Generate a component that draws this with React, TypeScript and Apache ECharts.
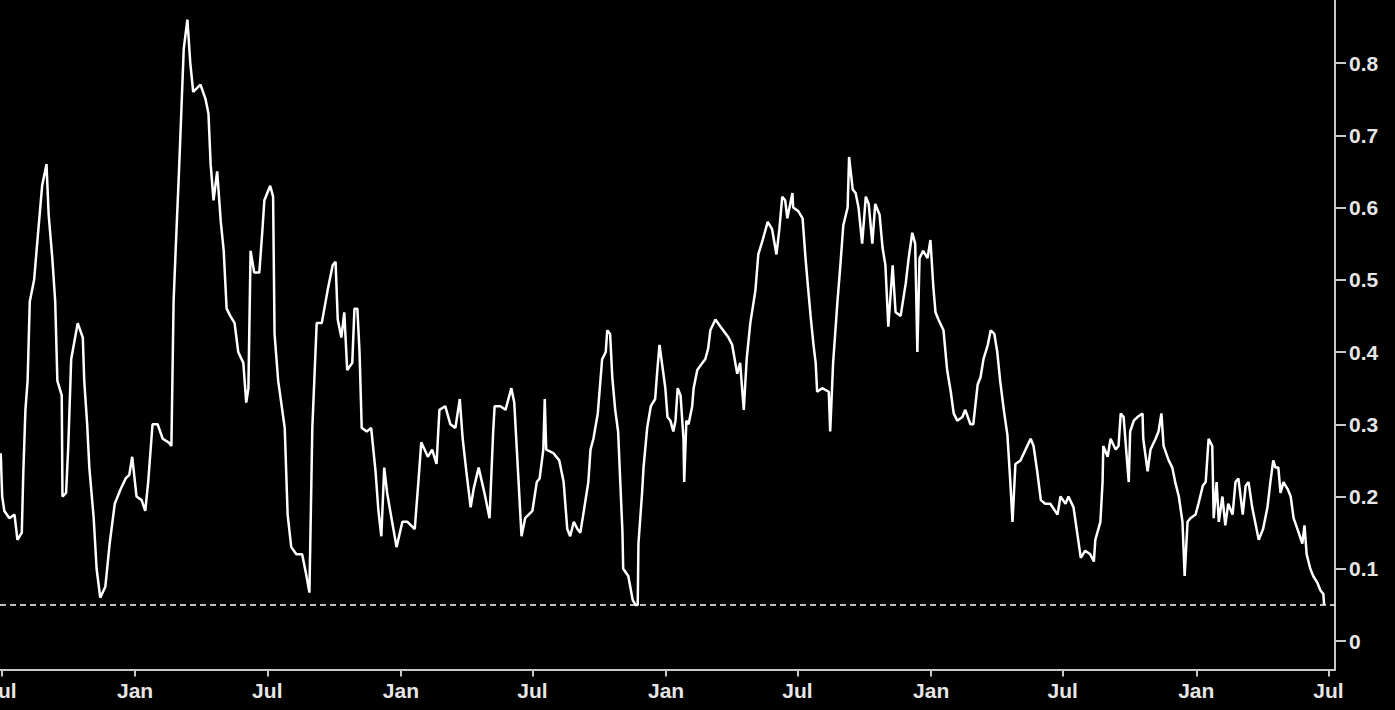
import React, { useEffect, useRef } from "react";
import * as echarts from "echarts";

// Day offsets since 2019-07-01 and the series values
const days: number[] = [
  -1, 1, 4, 11, 18, 22, 28, 30, 33, 36, 39, 45, 50, 56, 62, 65, 70, 74, 77, 83, 84, 89, 92, 96, 105, 112, 114, 118, 121, 127, 131, 136, 143, 149, 156, 164, 171, 176, 180, 186, 193, 198, 202, 208, 215, 222, 230, 234, 237, 240, 244, 246, 251, 256, 260, 264, 274, 281, 285, 288, 292, 297, 302, 306, 310, 315, 321, 326, 333, 337, 340, 343, 348, 355, 359, 362, 370, 374, 376, 381, 390, 394, 399, 406, 414, 419, 424, 428, 434, 441, 449, 456, 460, 463, 468, 472, 476, 483, 486, 490, 493, 496, 503, 509, 515, 519, 523, 527, 531, 537, 544, 552, 559, 569, 574, 578, 587, 593, 599, 603, 611, 618, 625, 631, 635, 640, 646, 650, 657, 665, 672, 677, 679, 687, 694, 702, 706, 712, 716, 721, 731, 737, 741, 746, 748, 750, 760, 768, 774, 779, 783, 788, 793, 797, 801, 808, 811, 815, 821, 825, 827, 832, 834, 838, 841, 845, 849, 852, 855, 856, 863, 869, 873, 876, 877, 882, 884, 889, 894, 900, 903, 906, 910, 914, 917, 921, 925, 928, 931, 935, 939, 940, 943, 946, 951, 953, 958, 965, 969, 973, 976, 983, 990, 1001, 1006, 1013, 1017, 1022, 1026, 1031, 1038, 1042, 1048, 1055, 1061, 1067, 1071, 1075, 1079, 1082, 1089, 1090, 1097, 1103, 1107, 1110, 1114, 1118, 1121, 1123, 1130, 1139, 1141, 1145, 1151, 1155, 1159, 1165, 1167, 1172, 1176, 1180, 1185, 1190, 1194, 1199, 1203, 1209, 1213, 1217, 1221, 1227, 1231, 1238, 1245, 1249, 1254, 1258, 1261, 1264, 1269, 1275, 1279, 1283, 1286, 1290, 1297, 1302, 1307, 1311, 1316, 1323, 1327, 1334, 1338, 1344, 1348, 1352, 1358, 1362, 1367, 1371, 1375, 1380, 1385, 1389, 1392, 1396, 1403, 1410, 1417, 1421, 1426, 1431, 1437, 1444, 1454, 1458, 1465, 1469, 1476, 1481, 1486, 1492, 1499, 1504, 1506, 1513, 1516, 1517, 1523, 1527, 1534, 1538, 1541, 1545, 1550, 1552, 1554, 1559, 1564, 1571, 1572, 1578, 1582, 1589, 1593, 1597, 1600, 1607, 1612, 1616, 1621, 1626, 1629, 1633, 1637, 1644, 1648, 1654, 1658, 1662, 1667, 1669, 1673, 1676, 1681, 1685, 1689, 1695, 1699, 1703, 1709, 1713, 1717, 1722, 1726, 1731, 1737, 1743, 1747, 1751, 1754, 1758, 1761, 1765, 1771, 1775, 1779, 1786, 1791, 1794, 1797, 1802, 1806, 1812, 1816, 1820, 1821,
];

const values: number[] = [
  0.26, 0.2, 0.18, 0.17, 0.175, 0.14, 0.15, 0.23, 0.32, 0.36, 0.47, 0.5, 0.56, 0.63, 0.66, 0.59, 0.53, 0.47, 0.36, 0.34, 0.2, 0.205, 0.27, 0.39, 0.44, 0.42, 0.36, 0.3, 0.24, 0.17, 0.1, 0.06, 0.075, 0.135, 0.19, 0.21, 0.225, 0.23, 0.255, 0.2, 0.195, 0.18, 0.22, 0.3, 0.3, 0.28, 0.275, 0.27, 0.47, 0.545, 0.64, 0.69, 0.82, 0.86, 0.8, 0.76, 0.77, 0.75, 0.73, 0.66, 0.61, 0.65, 0.58, 0.54, 0.46, 0.45, 0.44, 0.4, 0.385, 0.33, 0.35, 0.54, 0.51, 0.51, 0.565, 0.61, 0.63, 0.615, 0.425, 0.36, 0.295, 0.175, 0.13, 0.12, 0.12, 0.095, 0.067, 0.295, 0.44, 0.44, 0.485, 0.52, 0.525, 0.445, 0.42, 0.455, 0.375, 0.385, 0.46, 0.46, 0.4, 0.295, 0.29, 0.295, 0.235, 0.18, 0.145, 0.24, 0.205, 0.17, 0.13, 0.165, 0.165, 0.155, 0.22, 0.275, 0.255, 0.265, 0.245, 0.32, 0.325, 0.3, 0.295, 0.335, 0.28, 0.235, 0.185, 0.21, 0.24, 0.205, 0.17, 0.29, 0.325, 0.325, 0.32, 0.35, 0.33, 0.22, 0.145, 0.17, 0.18, 0.22, 0.225, 0.265, 0.335, 0.265, 0.26, 0.25, 0.22, 0.155, 0.145, 0.165, 0.155, 0.15, 0.175, 0.22, 0.265, 0.28, 0.315, 0.365, 0.39, 0.4, 0.43, 0.425, 0.365, 0.32, 0.29, 0.22, 0.15, 0.1, 0.09, 0.057, 0.05, 0.05, 0.135, 0.205, 0.24, 0.295, 0.325, 0.335, 0.375, 0.41, 0.38, 0.35, 0.31, 0.305, 0.29, 0.305, 0.35, 0.34, 0.28, 0.22, 0.305, 0.3, 0.325, 0.35, 0.375, 0.385, 0.39, 0.405, 0.43, 0.445, 0.435, 0.42, 0.41, 0.37, 0.385, 0.32, 0.39, 0.44, 0.485, 0.535, 0.555, 0.58, 0.57, 0.535, 0.57, 0.615, 0.61, 0.585, 0.62, 0.6, 0.595, 0.585, 0.53, 0.495, 0.45, 0.41, 0.385, 0.345, 0.35, 0.345, 0.29, 0.385, 0.47, 0.52, 0.575, 0.6, 0.67, 0.625, 0.62, 0.6, 0.55, 0.615, 0.605, 0.55, 0.605, 0.59, 0.545, 0.52, 0.435, 0.52, 0.455, 0.45, 0.495, 0.53, 0.565, 0.55, 0.4, 0.53, 0.54, 0.53, 0.555, 0.49, 0.455, 0.445, 0.43, 0.375, 0.345, 0.315, 0.305, 0.31, 0.32, 0.3, 0.3, 0.355, 0.365, 0.39, 0.41, 0.43, 0.425, 0.4, 0.36, 0.32, 0.285, 0.22, 0.165, 0.245, 0.25, 0.265, 0.28, 0.27, 0.235, 0.195, 0.19, 0.19, 0.175, 0.2, 0.19, 0.2, 0.185, 0.15, 0.115, 0.125, 0.12, 0.11, 0.14, 0.165, 0.22, 0.27, 0.255, 0.28, 0.265, 0.27, 0.315, 0.31, 0.245, 0.22, 0.29, 0.305, 0.31, 0.315, 0.28, 0.235, 0.265, 0.28, 0.29, 0.315, 0.27, 0.25, 0.24, 0.22, 0.2, 0.165, 0.09, 0.165, 0.17, 0.175, 0.19, 0.215, 0.22, 0.28, 0.27, 0.17, 0.22, 0.165, 0.2, 0.16, 0.19, 0.175, 0.22, 0.225, 0.175, 0.215, 0.22, 0.185, 0.165, 0.14, 0.155, 0.185, 0.22, 0.25, 0.24, 0.24, 0.205, 0.22, 0.21, 0.2, 0.17, 0.15, 0.135, 0.16, 0.12, 0.1, 0.09, 0.08, 0.07, 0.065, 0.05,
];

const baseDate = "2019-07-01";
const axisStart = "2019-06-29";
const axisEnd = "2024-07-10";
const tickDates: string[] = [
  "2019-07-01", "2020-01-01", "2020-07-01", "2021-01-01", "2021-07-01", "2022-01-01",
  "2022-07-01", "2023-01-01", "2023-07-01", "2024-01-01", "2024-07-01",
];
const tickLabels: string[] = ["Jul", "Jan", "Jul", "Jan", "Jul", "Jan", "Jul", "Jan", "Jul", "Jan", "Jul"];
const yTicks: number[] = [0, 0.1, 0.2, 0.3, 0.4, 0.5, 0.6, 0.7, 0.8, 0.9];
const thresholdLevel = 0.05;

const DAY = 86400000;

export default function App() {
  const ref = useRef<HTMLDivElement>(null);

  useEffect(() => {
    if (!ref.current) return;
    const chart = echarts.init(ref.current, null, { renderer: "svg" });
    const base = Date.parse(baseDate);
    const data = days.map((d, i) => [base + d * DAY, values[i]]);
    const tickTs = tickDates.map((s) => Date.parse(s));
    const labelFor = (v: number) => {
      const idx = tickTs.findIndex((t) => Math.abs(t - v) < DAY / 2);
      return idx >= 0 ? tickLabels[idx] : "";
    };
    const textStyle = {
      color: "#e6e6e6",
      fontFamily: "Liberation Sans, Arial, sans-serif",
      fontWeight: "bold" as const,
      fontSize: 21,
    };

    chart.setOption({
      animation: false,
      backgroundColor: "#000000",
      grid: {
        left: 0,
        right: 60,
        top: 10.75,
        bottom: 40.5,
        containLabel: false,
        outerBoundsMode: "none",
      },
      xAxis: {
        type: "value",
        min: Date.parse(axisStart),
        max: Date.parse(axisEnd),
        splitLine: { show: false },
        axisLine: { show: true, onZero: false, lineStyle: { color: "#c8c8c8", width: 2 } },
        axisTick: { show: true, length: 7, customValues: tickTs, lineStyle: { color: "#c8c8c8", width: 2 } },
        axisLabel: {
          ...textStyle,
          margin: 10,
          customValues: tickTs,
          formatter: (v: number) => labelFor(v),
        },
      },
      yAxis: {
        type: "value",
        position: "right",
        min: -0.0394,
        max: 0.9,
        splitLine: { show: false },
        axisLine: { show: true, lineStyle: { color: "#c8c8c8", width: 2 } },
        axisTick: { show: true, length: 11, customValues: yTicks, lineStyle: { color: "#c8c8c8", width: 2 } },
        axisLabel: {
          ...textStyle,
          margin: 14,
          customValues: yTicks,
          formatter: (v: number) => (Math.abs(v) < 1e-9 ? "0" : v.toFixed(1)),
        },
      },
      series: [
        {
          type: "line",
          data,
          showSymbol: false,
          symbol: "none",
          lineStyle: { color: "#ffffff", width: 2.5 },
          markLine: {
            silent: true,
            symbol: "none",
            label: { show: false },
            lineStyle: { color: "#ffffff", width: 1.5, type: [6, 4] },
            data: [{ yAxis: thresholdLevel }],
          },
        },
      ],
    });
    return () => chart.dispose();
  }, []);

  return (
    <div style={{ position: "fixed", left: 0, top: 0, width: 1395, height: 710, overflow: "hidden", background: "#000" }}>
      <div
        ref={ref}
        style={{ position: "absolute", left: 0, top: -20, width: 1395, height: 730 }}
      />
    </div>
  );
}
